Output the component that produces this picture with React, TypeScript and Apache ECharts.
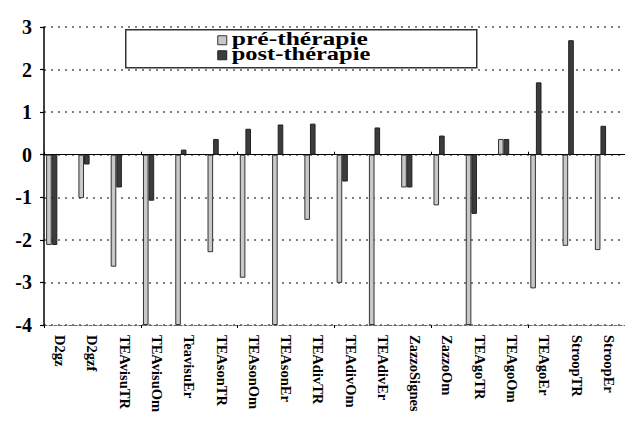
import React, { useEffect, useRef } from "react";
import * as echarts from "echarts";

const categories = [
  "D2gz", "D2gzf", "TEAvisuTR", "TEAvisuOm", "TeavisuEr", "TEAsonTR", "TEAsonOm", "TEAsonEr",
  "TEAdivTR", "TEAdivOm", "TEAdivEr", "ZazzoSignes", "ZazzoOm", "TEAgoTR", "TEAgoOm", "TEAgoEr",
  "StroopTR", "StroopEr",
];
const preTherapie = [
  -2.12, -1.02, -2.63, -4, -4, -2.29, -2.89, -4, -1.53, -3.01, -4, -0.77, -1.19, -4, 0.37, -3.14, -2.14, -2.24,
];
const postTherapie = [
  -2.12, -0.23, -0.77, -1.08, 0.12, 0.37, 0.61, 0.71, 0.73, -0.63, 0.64, -0.77, 0.45, -1.39, 0.37, 1.7, 2.69, 0.68,
];
const legendNames = ["pré-thérapie", "post-thérapie"];

const FONT = "Liberation Serif";

export default function App() {
  const ref = useRef<HTMLDivElement>(null);
  useEffect(() => {
    if (!ref.current) return;
    const chart = echarts.init(ref.current, null, { renderer: "svg" });
    const barW = 5.6;
    const dummy = (n: number) => ({
      type: "bar",
      name: "_d" + n,
      data: [] as number[],
      barWidth: barW,
      barGap: "0%",
      xAxisIndex: 0,
      silent: true,
    });
    chart.setOption({
      animation: false,
      backgroundColor: "#fff",
      grid: { left: 44, right: 0, top: 27, bottom: 96, containLabel: false },
      xAxis: [
        {
          type: "category",
          data: categories,
          position: "bottom",
          axisLine: { onZero: false, show: true, lineStyle: { color: "#666", type: [3, 2], width: 1.2 } },
          axisTick: { show: false },
          axisLabel: {
            rotate: -90,
            interval: 0,
            margin: 10,
            fontFamily: FONT,
            fontWeight: "bold",
            fontSize: 14.5,
            color: "#000",
          },
        },
        {
          type: "category",
          data: categories,
          position: "top",
          axisLine: { onZero: true, show: true, lineStyle: { color: "#000", width: 1 } },
          axisTick: { show: true, length: 3, lineStyle: { color: "#000", width: 1 } },
          axisLabel: { show: false },
        },
        {
          type: "category",
          data: categories,
          position: "bottom",
          axisLine: { onZero: true, show: false },
          axisTick: { show: true, length: 3, lineStyle: { color: "#000", width: 1 } },
          axisLabel: { show: false },
        },
      ],
      yAxis: {
        type: "value",
        min: -4,
        max: 3,
        interval: 1,
        axisLine: { show: true, lineStyle: { color: "#000", width: 1.5 } },
        axisTick: { show: true, length: 4, lineStyle: { color: "#000", width: 1.2 } },
        axisLabel: {
          fontFamily: FONT,
          fontWeight: "bold",
          fontSize: 20,
          color: "#000",
          margin: 12,
        },
        splitLine: { show: true, lineStyle: { color: "#555", type: [2, 5], width: 1.5 } },
      },
      series: [
        {
          type: "bar",
          name: legendNames[0],
          data: preTherapie,
          barWidth: barW,
          barGap: "0%",
          xAxisIndex: 0,
          itemStyle: { color: "#c8c8c8", borderColor: "#333", borderWidth: 1 },
        },
        {
          type: "bar",
          name: legendNames[1],
          data: postTherapie,
          barWidth: barW,
          barGap: "0%",
          xAxisIndex: 0,
          itemStyle: { color: "#3c3c3c", borderColor: "#222", borderWidth: 1 },
        },
        dummy(1),
        dummy(2),
        dummy(3),
      ],
      graphic: [
        {
          type: "group",
          left: 125,
          top: 29,
          children: [
            {
              type: "rect",
              shape: { x: 0, y: 0, width: 351, height: 38 },
              style: { fill: "#fff", stroke: "#333", lineWidth: 1.5 },
            },
            {
              type: "rect",
              shape: { x: 92, y: 6, width: 9, height: 9 },
              style: { fill: "#c8c8c8", stroke: "#333", lineWidth: 1 },
            },
            {
              type: "rect",
              shape: { x: 92, y: 21, width: 9, height: 9 },
              style: { fill: "#3c3c3c", stroke: "#222", lineWidth: 1 },
            },
            {
              type: "text",
              x: 106,
              y: 0,
              scaleX: 1.42,
              style: {
                text: legendNames[0],
                fontFamily: FONT,
                fontWeight: "bold",
                fontSize: 18,
                fill: "#000",
              },
            },
            {
              type: "text",
              x: 106,
              y: 15,
              scaleX: 1.36,
              style: {
                text: legendNames[1],
                fontFamily: FONT,
                fontWeight: "bold",
                fontSize: 18,
                fill: "#000",
              },
            },
          ],
        },
      ],
    });
    return () => chart.dispose();
  }, []);
  return (
    <div
      ref={ref}
      style={{ position: "absolute", left: 0, top: 0, width: 625, height: 421 }}
    />
  );
}
